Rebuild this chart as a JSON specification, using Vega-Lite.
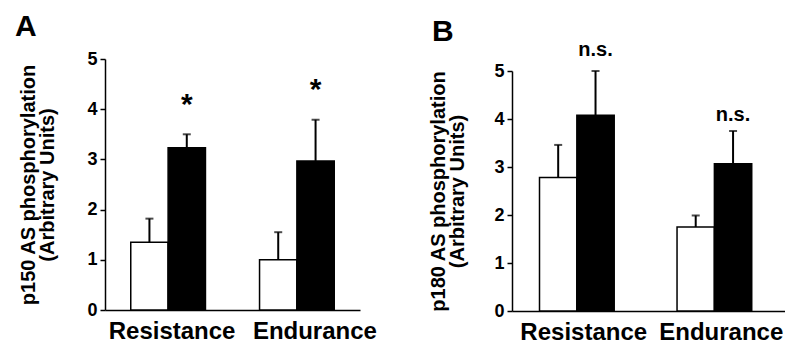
{
  "$schema": "https://vega.github.io/schema/vega-lite/v6.json",
  "padding": {"left": 15, "top": 12, "right": 0, "bottom": 0},
  "autosize": {"type": "pad"},
  "background": "white",
  "spacing": 51,
  "config": {
    "view": {"stroke": null},
    "font": "Liberation Sans",
    "axis": {"grid": false, "domainColor": "black", "tickColor": "black", "labelColor": "black", "titleColor": "black", "labelFont": "Liberation Sans", "titleFont": "Liberation Sans", "labelFontWeight": "bold", "titleFontWeight": "bold"},
    "title": {"font": "Liberation Sans", "fontWeight": "bold", "color": "black", "fontSize": 30, "anchor": "start", "frame": "group"}
  },
  "data": {"values": [
    {"panel": "A", "exercise": "Resistance", "condition": "Pre", "value": 1.35, "upper": 1.82, "sig": null, "sig_y": null},
    {"panel": "A", "exercise": "Resistance", "condition": "Post", "value": 3.23, "upper": 3.5, "sig": "*", "sig_y": 3.9},
    {"panel": "A", "exercise": "Endurance", "condition": "Pre", "value": 1.0, "upper": 1.55, "sig": null, "sig_y": null},
    {"panel": "A", "exercise": "Endurance", "condition": "Post", "value": 2.97, "upper": 3.79, "sig": "*", "sig_y": 4.2},
    {"panel": "B", "exercise": "Resistance", "condition": "Pre", "value": 2.78, "upper": 3.46, "sig": null, "sig_y": null},
    {"panel": "B", "exercise": "Resistance", "condition": "Post", "value": 4.08, "upper": 5.0, "sig": "n.s.", "sig_y": 5.31},
    {"panel": "B", "exercise": "Endurance", "condition": "Pre", "value": 1.75, "upper": 1.99, "sig": null, "sig_y": null},
    {"panel": "B", "exercise": "Endurance", "condition": "Post", "value": 3.07, "upper": 3.75, "sig": "n.s.", "sig_y": 3.96}
  ]},
  "hconcat": [
    {
      "title": {"text": "A", "dx": -90, "offset": 8},
      "width": 255,
      "height": 251,
      "transform": [{"filter": "datum.panel == 'A'"}],
      "encoding": {
        "x": {"field": "exercise", "type": "nominal", "sort": ["Resistance", "Endurance"],
              "scale": {"paddingInner": 0.42, "paddingOuter": 0.2},
              "axis": {"title": null, "ticks": false, "labelAngle": 0, "labelFontSize": 24, "labelPadding": 9, "domainWidth": 1.5,
                       "labelOffset": {"expr": "datum.value == 'Endurance' ? 18 : 4"}}},
        "xOffset": {"field": "condition", "type": "nominal", "sort": ["Pre", "Post"], "scale": {"paddingInner": 0, "paddingOuter": 0}}
      },
      "layer": [
        {"mark": {"type": "bar", "stroke": "black", "strokeWidth": 1.5},
         "encoding": {
           "y": {"field": "value", "type": "quantitative", "scale": {"domain": [0, 5]},
                 "axis": {"values": [0, 1, 2, 3, 4, 5], "title": ["p150 AS phosphorylation", "(Arbitrary Units)"], "titleFontSize": 20, "titleLineHeight": 19, "titlePadding": 29, "labelFontSize": 18, "tickSize": 5, "tickWidth": 1.5, "domainWidth": 1.5, "labelPadding": 3}},
           "fill": {"field": "condition", "type": "nominal", "scale": {"domain": ["Pre", "Post"], "range": ["white", "black"]}, "legend": null}
         }},
        {"mark": {"type": "rule", "color": "black", "strokeWidth": 2},
         "encoding": {"y": {"field": "value", "type": "quantitative"}, "y2": {"field": "upper"}}},
        {"mark": {"type": "tick", "color": "black", "thickness": 2, "size": 8},
         "encoding": {"y": {"field": "upper", "type": "quantitative"}}},
        {"transform": [{"filter": "datum.sig != null"}],
         "mark": {"type": "text", "fontSize": 30, "fontWeight": "bold", "baseline": "alphabetic", "color": "black"},
         "encoding": {"y": {"field": "sig_y", "type": "quantitative"}, "text": {"field": "sig"}}}
      ]
    },
    {
      "bounds": "flush",
      "spacing": 10,
      "vconcat": [
        {
          "title": {"text": "B", "dx": -80, "offset": 12},
          "width": 273,
          "height": 2,
          "transform": [{"filter": "datum.panel == 'none'"}],
          "mark": {"type": "text"},
          "encoding": {}
        },
        {
          "width": 273,
          "height": 240,
          "transform": [{"filter": "datum.panel == 'B'"}],
          "encoding": {
            "x": {"field": "exercise", "type": "nominal", "sort": ["Resistance", "Endurance"],
                  "scale": {"paddingInner": 0.415, "paddingOuter": 0.2},
                  "axis": {"title": null, "ticks": false, "labelAngle": 0, "labelFontSize": 24, "labelPadding": 9, "domainWidth": 1.5, "labelOffset": 4}},
            "xOffset": {"field": "condition", "type": "nominal", "sort": ["Pre", "Post"], "scale": {"paddingInner": 0, "paddingOuter": 0}}
          },
          "layer": [
            {"mark": {"type": "bar", "stroke": "black", "strokeWidth": 1.5},
             "encoding": {
               "y": {"field": "value", "type": "quantitative", "scale": {"domain": [0, 5]},
                     "axis": {"values": [0, 1, 2, 3, 4, 5], "title": ["p180 AS phosphorylation", "(Arbitrary Units)"], "titleFontSize": 20, "titleLineHeight": 19, "titlePadding": 26, "labelFontSize": 18, "tickSize": 5, "tickWidth": 1.5, "domainWidth": 1.5, "labelPadding": 3}},
               "fill": {"field": "condition", "type": "nominal", "scale": {"domain": ["Pre", "Post"], "range": ["white", "black"]}, "legend": null}
             }},
            {"mark": {"type": "rule", "color": "black", "strokeWidth": 2},
             "encoding": {"y": {"field": "value", "type": "quantitative"}, "y2": {"field": "upper"}}},
            {"mark": {"type": "tick", "color": "black", "thickness": 2, "size": 8},
             "encoding": {"y": {"field": "upper", "type": "quantitative"}}},
            {"transform": [{"filter": "datum.sig != null"}],
             "mark": {"type": "text", "fontSize": 20, "fontWeight": "bold", "baseline": "alphabetic", "color": "black"},
             "encoding": {"y": {"field": "sig_y", "type": "quantitative"}, "text": {"field": "sig"}}}
          ]
        }
      ]
    }
  ],
  "resolve": {"scale": {"fill": "shared"}}
}
